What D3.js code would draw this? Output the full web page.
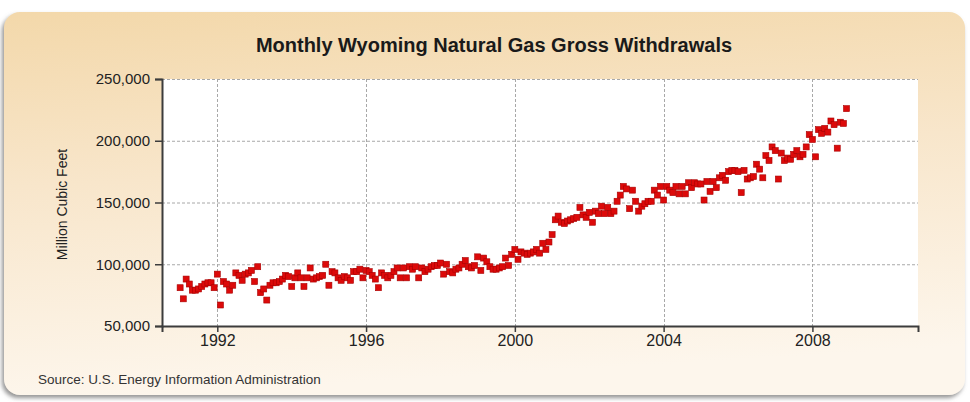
<!DOCTYPE html>
<html>
<head>
<meta charset="utf-8">
<script src="https://cdn.jsdelivr.net/npm/d3@7"></script>
<style>
  html, body { margin: 0; padding: 0; background: #ffffff; }
  svg { display: block; }
</style>
</head>
<body>
<svg id="chart" width="970" height="402"></svg>
<script>
// ---------------- DATA ----------------
const chartTitle = "Monthly Wyoming Natural Gas Gross Withdrawals";
const yAxisLabel = "Million Cubic Feet";
const sourceText = "Source: U.S. Energy Information Administration";

const startYear = 1991; // first month: January 1991, monthly through December 2008
const withdrawals = [
  // 1991
  81000, 72000, 88000, 84000, 79000, 79000, 80000, 82000, 84000, 85000, 85000, 81000,
  // 1992
  92000, 67000, 86000, 84000, 79000, 83000, 93000, 91000, 87000, 92000, 93000, 95000,
  // 1993
  86000, 98000, 77000, 80000, 71000, 83000, 85000, 85000, 86000, 88000, 91000, 90000,
  // 1994
  82000, 89000, 93000, 89000, 82000, 89000, 97000, 88000, 89000, 90000, 91000, 100000,
  // 1995
  83000, 94000, 93000, 89000, 87000, 90000, 89000, 87000, 94000, 94000, 96000, 89000,
  // 1996
  95000, 94000, 91000, 88000, 81000, 93000, 91000, 89000, 91000, 94000, 97000, 89000,
  // 1997
  97000, 89000, 98000, 96000, 98000, 89000, 97000, 94000, 96000, 98000, 99000, 99000,
  // 1998
  101000, 92000, 100000, 94000, 93000, 96000, 97000, 100000, 103000, 98000, 97000, 99000,
  // 1999
  106000, 95000, 105000, 102000, 98000, 96000, 96000, 97000, 98000, 105000, 99000, 108000,
  // 2000
  112000, 104000, 110000, 109000, 108000, 109000, 110000, 112000, 109000, 117000, 112000, 118000,
  // 2001
  124000, 136000, 139000, 134000, 133000, 135000, 136000, 137000, 138000, 146000, 140000, 138000,
  // 2002
  142000, 134000, 143000, 141000, 147000, 141000, 146000, 141000, 143000, 151000, 156000, 163000,
  // 2003
  161000, 145000, 160000, 151000, 143000, 147000, 149000, 151000, 151000, 160000, 156000, 163000,
  // 2004
  152000, 163000, 160000, 158000, 163000, 157000, 163000, 157000, 166000, 162000, 166000, 165000,
  // 2005
  165000, 152000, 167000, 159000, 167000, 162000, 170000, 172000, 168000, 175000, 176000, 176000,
  // 2006
  175000, 158000, 176000, 169000, 170000, 171000, 181000, 177000, 170000, 188000, 184000, 195000,
  // 2007
  192000, 169000, 190000, 184000, 186000, 185000, 189000, 192000, 187000, 189000, 195000, 205000,
  // 2008
  201000, 187000, 209000, 206000, 210000, 207000, 216000, 213000, 194000, 215000, 214000, 226000
];

const xTickYears = [1992, 1996, 2000, 2004, 2008];
const yTickValues = [50000, 100000, 150000, 200000, 250000];
const yDomain = [50000, 250000];
const xDomain = [new Date(1990, 6, 7), new Date(2010, 10, 3)];

// ---------------- LAYOUT ----------------
const plot = { left: 162, right: 918, top: 79, bottom: 326 };
const FONT = "'Liberation Sans', Arial, sans-serif";

const data = withdrawals.map((v, i) => ({ date: new Date(startYear, i, 1), value: v }));

const svg = d3.select("#chart");
const defs = svg.append("defs");

const bg = defs.append("linearGradient").attr("id", "panelGrad")
  .attr("x1", "0").attr("y1", "0").attr("x2", "0.15").attr("y2", "1");
bg.append("stop").attr("offset", "0%").attr("stop-color", "#f3d8aa");
bg.append("stop").attr("offset", "45%").attr("stop-color", "#f8e6cb");
bg.append("stop").attr("offset", "100%").attr("stop-color", "#fdf6ec");

const sh = defs.append("filter").attr("id", "shadow")
  .attr("x", "-5%").attr("y", "-5%").attr("width", "110%").attr("height", "115%");
sh.append("feDropShadow").attr("dx", -2).attr("dy", 3).attr("stdDeviation", 2)
  .attr("flood-color", "#7a7a7a").attr("flood-opacity", 0.8);

// panel
svg.append("rect")
  .attr("x", 4).attr("y", 12).attr("width", 961).attr("height", 383)
  .attr("rx", 16).attr("ry", 16)
  .attr("fill", "url(#panelGrad)")
  .attr("filter", "url(#shadow)");

// scales
const x = d3.scaleTime().domain(xDomain).range([plot.left, plot.right]);
const y = d3.scaleLinear().domain(yDomain).range([plot.bottom, plot.top]);

// plot background
svg.append("rect")
  .attr("x", x.range()[0]).attr("y", y.range()[1])
  .attr("width", x.range()[1] - x.range()[0])
  .attr("height", y.range()[0] - y.range()[1])
  .attr("fill", "#ffffff");

// horizontal gridlines
svg.append("g").selectAll("line")
  .data(yTickValues.filter(v => v !== yDomain[0]))
  .join("line")
  .attr("x1", plot.left).attr("x2", plot.right)
  .attr("y1", d => y(d) + 0.5).attr("y2", d => y(d) + 0.5)
  .attr("stroke", "#a8a8a8").attr("stroke-width", 1)
  .attr("stroke-dasharray", "3,2");

// vertical gridlines
svg.append("g").selectAll("line")
  .data(xTickYears)
  .join("line")
  .attr("x1", d => Math.round(x(new Date(d, 0, 1))) + 0.5)
  .attr("x2", d => Math.round(x(new Date(d, 0, 1))) + 0.5)
  .attr("y1", plot.top).attr("y2", plot.bottom)
  .attr("stroke", "#a8a8a8").attr("stroke-width", 1)
  .attr("stroke-dasharray", "3,2");

// y axis
const yAxis = d3.axisLeft(y).tickValues(yTickValues)
  .tickFormat(d3.format(",")).tickSize(7).tickPadding(5);
const gy = svg.append("g").attr("transform", `translate(${plot.left},0)`).call(yAxis);
gy.select(".domain").attr("stroke", "#3c3c3c").attr("stroke-width", 2);
gy.selectAll(".tick line").attr("stroke", "#3c3c3c").attr("stroke-width", 1.5);
gy.selectAll(".tick text").attr("font-family", FONT).attr("font-size", 15)
  .attr("fill", "#222");

// x axis
const xAxis = d3.axisBottom(x).tickValues(xTickYears.map(yr => new Date(yr, 0, 1)))
  .tickFormat(d3.timeFormat("%Y")).tickSize(6).tickPadding(3);
const gx = svg.append("g").attr("transform", `translate(0,${plot.bottom})`).call(xAxis);
gx.select(".domain").attr("stroke", "#3c3c3c").attr("stroke-width", 2);
gx.selectAll(".tick line").attr("stroke", "#3c3c3c").attr("stroke-width", 1.5);
gx.selectAll(".tick text").attr("font-family", FONT).attr("font-size", 16)
  .attr("fill", "#222");

// points
const S = 6;
svg.append("g").selectAll("rect")
  .data(data)
  .join("rect")
  .attr("x", d => x(d.date) - S / 2)
  .attr("y", d => y(d.value) - S / 2)
  .attr("width", S).attr("height", S)
  .attr("fill", "#dc0a0a")
  .attr("stroke", "#a80000").attr("stroke-width", 0.6);

// title
svg.append("text")
  .attr("x", 494).attr("y", 52)
  .attr("text-anchor", "middle")
  .attr("font-family", FONT).attr("font-weight", "bold").attr("font-size", 20)
  .attr("fill", "#1a1a1a")
  .text(chartTitle);

// y axis label
svg.append("text")
  .attr("transform", `translate(67,${(plot.top + plot.bottom) / 2 + 2}) rotate(-90)`)
  .attr("text-anchor", "middle")
  .attr("font-family", FONT).attr("font-size", 14)
  .attr("fill", "#222")
  .text(yAxisLabel);

// source
svg.append("text")
  .attr("x", 38).attr("y", 384)
  .attr("font-family", FONT).attr("font-size", 13.5)
  .attr("fill", "#333")
  .text(sourceText);
</script>
</body>
</html>
